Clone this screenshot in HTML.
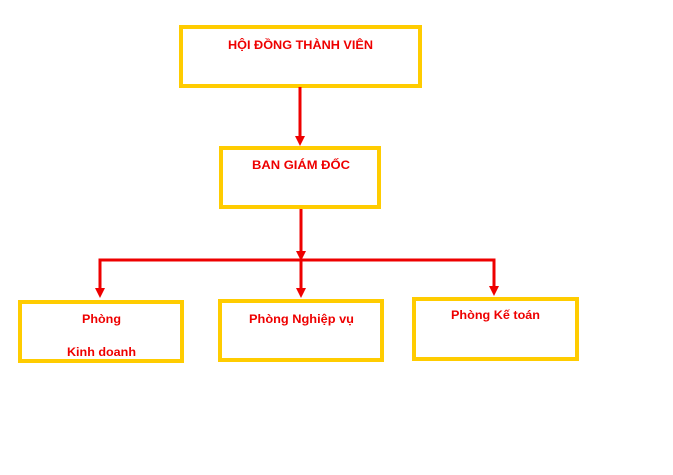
<!DOCTYPE html>
<html><head><meta charset="utf-8"><style>html,body{margin:0;padding:0;background:#fff;}svg{display:block}</style></head>
<body>
<svg width="673" height="475" viewBox="0 0 673 475" xmlns="http://www.w3.org/2000/svg">
<g fill="none" stroke="#FFCC00" stroke-width="4">
<rect x="181" y="27" width="239" height="59"/>
<rect x="221" y="148" width="158" height="59"/>
<rect x="20" y="302" width="162" height="59"/>
<rect x="220" y="301" width="162" height="59"/>
<rect x="414" y="299" width="163" height="60"/>
</g>
<g stroke="#EE0000" stroke-width="3" fill="none">
<line x1="300" y1="87" x2="300" y2="137"/>
<line x1="301" y1="209" x2="301" y2="252"/>
<polyline points="100,290 100,260 494,260 494,288"/>
<line x1="301" y1="260" x2="301" y2="289"/>
</g>
<g fill="#EE0000">
<polygon points="295,136 305,136 300,146"/>
<polygon points="296,251 306,251 301,261"/>
<polygon points="95,288 105,288 100,298"/>
<polygon points="296,288 306,288 301,298"/>
<polygon points="489,286 499,286 494,296"/>
</g>
<g fill="#EE0000" font-family="Liberation Sans, sans-serif" font-weight="bold" font-size="12">
<text x="228" y="49" textLength="145" lengthAdjust="spacingAndGlyphs">HỘI ĐỒNG THÀNH VIÊN</text>
<text x="252" y="169" textLength="98" lengthAdjust="spacingAndGlyphs">BAN GIÁM ĐỐC</text>
<text x="82" y="323" textLength="39" lengthAdjust="spacingAndGlyphs">Phòng</text>
<text x="67" y="356" textLength="69" lengthAdjust="spacingAndGlyphs">Kinh doanh</text>
<text x="249" y="323" textLength="105" lengthAdjust="spacingAndGlyphs">Phòng Nghiệp vụ</text>
<text x="451" y="319" textLength="89" lengthAdjust="spacingAndGlyphs">Phòng Kế toán</text>
</g>
</svg>
</body></html>
